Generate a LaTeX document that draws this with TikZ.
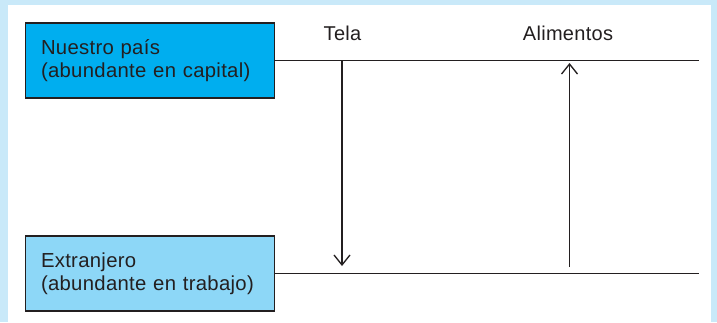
\documentclass[tikz,border=0pt]{standalone}
\usepackage{fontspec}
\setmainfont{Liberation Sans}[LetterSpace=1.5]
\usetikzlibrary{arrows.meta}
\definecolor{framebg}{HTML}{C9E9F9}
\definecolor{darkbox}{HTML}{00AEEF}
\definecolor{lightbox}{HTML}{8DD7F7}
\definecolor{ink}{HTML}{231F20}
\tikzset{
  countrybox/.style={draw=ink, line width=1.4pt, minimum width=248pt, minimum height=75pt,
    text width=218pt, align=left, inner xsep=15.5pt, inner ysep=0pt,
    font=\fontsize{20.3}{22.5}\selectfont, text=ink},
  tradeline/.style={draw=ink, line width=1.8pt},
  flow/.style={draw=ink, line width=1.3pt, -{Straight Barb[length=10pt,width=16pt]}},
  goodlabel/.style={anchor=base, font=\fontsize{20}{22.5}\selectfont, text=ink, inner sep=0pt}
}
\begin{document}
\begin{tikzpicture}[x=1pt,y=-1pt]
\useasboundingbox (0,0) rectangle (717,322);
\fill[framebg] (0,0) rectangle (717,322);
\fill[white] (8,5) rectangle (711,322);
\node[countrybox, fill=darkbox] (home) at (150,60.5) {Nuestro país\\(abundante en capital)};
\node[countrybox, fill=lightbox] (foreign) at (150,273.5) {Extranjero\\(abundante en trabajo)};
\coordinate (homeend) at (699,60.5);
\coordinate (foreignend) at (699,273.5);
\draw[tradeline] (home.east) -- (homeend);
\draw[tradeline] (foreign.east) -- (foreignend);
\node[goodlabel] (tela) at (342.5,40) {Tela};
\node[goodlabel] (alim) at (568,40) {Alimentos};
\coordinate (telatop) at (342,60.5);
\coordinate (telabot) at (342,266);
\coordinate (alimbot) at (569.5,267);
\coordinate (alimtop) at (569.5,63);
\draw[flow] (telatop) -- (telabot);
\draw[flow] (alimbot) -- (alimtop);
\end{tikzpicture}
\end{document}
